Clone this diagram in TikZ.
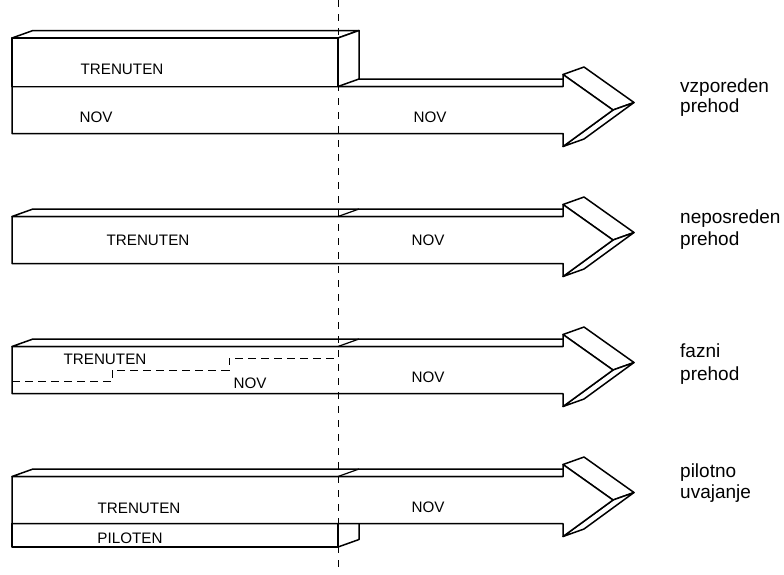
\documentclass[tikz,border=0pt]{standalone}
\usepackage{fontspec}
\setmainfont{Liberation Sans}
\begin{document}
\begin{tikzpicture}[x=1pt,y=-1pt,
  face/.style={draw=black, fill=white, line width=1.5pt, line join=round},
  lbl/.style={font=\fontsize{15.2}{18}\selectfont, inner sep=0pt, anchor=base},
  side/.style={font=\fontsize{19}{22}\selectfont, inner sep=0pt, anchor=base west},
  cutline/.style={draw=black, line width=0.9pt, dash pattern=on 7pt off 7pt},
  stepline/.style={draw=black, line width=0.9pt, dash pattern=on 8pt off 5pt}]
\useasboundingbox (0,0) rectangle (784,574);

\newcommand\migbody{%
  \path[face] (12,-23.5)--(33,-31)--(584,-31)--(563,-23.5)--cycle;
  \path[face] (563,-35.5)--(584,-43)--(634,-7.5)--(613,0)--cycle;
  \path[face] (563,36.5)--(584,29)--(634,-7.5)--(613,0)--cycle;
  \path[face] (12,-23.5)--(563,-23.5)--(563,-35.5)--(613,0)--(563,36.5)--(563,23.5)--(12,23.5)--cycle;
}

% arrow 1: vzporeden prehod
\begin{scope}[shift={(0,110)}]
  \migbody
  \path[face] (12,-72)--(33,-79.5)--(359,-79.5)--(338,-72)--cycle;
  \path[face] (338,-72)--(359,-79.5)--(359,-31)--(338,-23.5)--cycle;
  \path[face] (12,-72) rectangle (338,-23.5);
\end{scope}

% arrow 2: neposreden prehod
\begin{scope}[shift={(0,240)}]
  \migbody
  \draw[line width=1.2pt] (338,-23.5)--(359,-31);
\end{scope}

% arrow 3: fazni prehod
\begin{scope}[shift={(0,370)}]
  \migbody
  \draw[line width=1.2pt] (338,-23.5)--(359,-31);
  \draw[stepline] (12,11.7)--(112,11.7)--(112,0)--(229,0)--(229,-12)--(338,-12);
\end{scope}

% arrow 4: pilotno uvajanje
\begin{scope}[shift={(0,500)}]
  \path[face] (338,23.5)--(359,16)--(359,39.5)--(338,47)--cycle;
  \path[face] (12,23.5) rectangle (338,47);
  \migbody
  \draw[line width=1.2pt] (338,-23.5)--(359,-31);
\end{scope}

% time cut line
\coordinate (cuttop) at (338,0);
\coordinate (cutbot) at (338,574);
\draw[cutline] (cuttop)--(cutbot);

% labels inside arrows
\node[lbl] (t1) at (122,74) {TRENUTEN};
\node[lbl] (n1a) at (96,122) {NOV};
\node[lbl] (n1b) at (430,122) {NOV};

\node[lbl] (t2) at (148,245) {TRENUTEN};
\node[lbl] (n2) at (428,245) {NOV};

\node[lbl] (t3) at (105,364.5) {TRENUTEN};
\node[lbl] (n3a) at (250,388) {NOV};
\node[lbl] (n3b) at (428,382) {NOV};

\node[lbl] (t4) at (139,513) {TRENUTEN};
\node[lbl] (p4) at (130,543.5) {PILOTEN};
\node[lbl] (n4) at (428,512) {NOV};

% side labels
\node[side] (s1a) at (680,92) {vzporeden};
\node[side] (s1b) at (680,112) {prehod};
\node[side] (s2a) at (680,223.5) {neposreden};
\node[side] (s2b) at (680,245) {prehod};
\node[side] (s3a) at (680,357) {fazni};
\node[side] (s3b) at (680,380) {prehod};
\node[side] (s4a) at (680,477) {pilotno};
\node[side] (s4b) at (680,498.5) {uvajanje};
\end{tikzpicture}
\end{document}
